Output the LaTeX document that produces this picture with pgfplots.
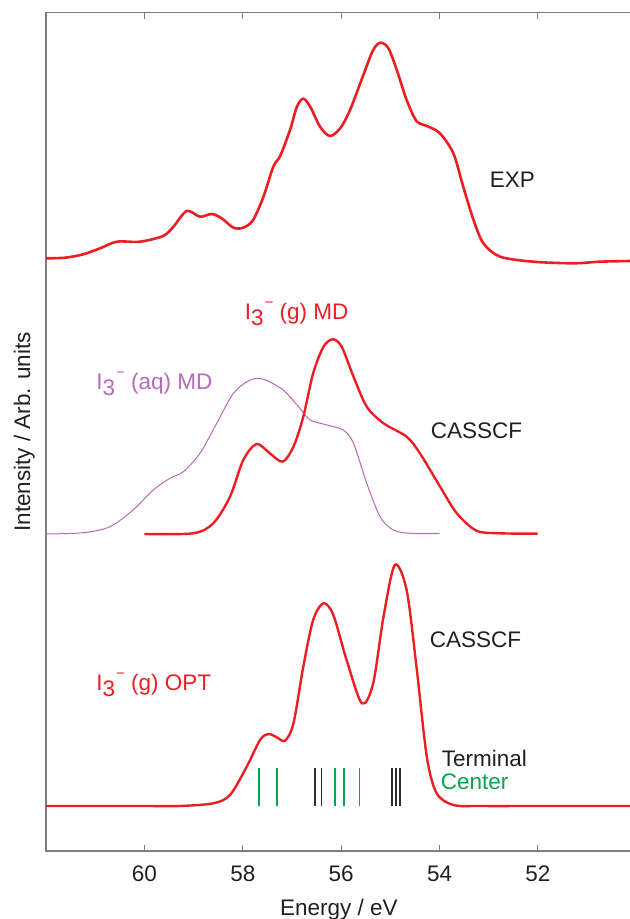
\documentclass[border=0pt]{standalone}
\usepackage{fontspec}
\setmainfont{Liberation Sans}
\usepackage{pgfplots}
\pgfplotsset{compat=1.18}
\definecolor{cRed}{RGB}{236,30,36}
\definecolor{cPurple}{RGB}{186,104,186}
\definecolor{cGreen}{RGB}{0,165,80}
\definecolor{cStick}{RGB}{45,45,45}
\definecolor{cAxis}{RGB}{125,125,125}
\definecolor{cText}{RGB}{35,31,32}
% I_3^- written the way the figure sets it
\newcommand{\Ith}{I\raisebox{-6bp}{3}\hspace{1bp}\raisebox{12bp}{\fontsize{15bp}{15bp}\selectfont\symbol{"2212}}}

\begin{document}
\begin{tikzpicture}[font=\fontsize{22.5bp}{27bp}\selectfont, text=cText]
\useasboundingbox (0,0) rectangle (630bp,919bp);
\begin{axis}[
  at={(46bp,68bp)}, anchor=south west,
  scale only axis, width=590.4bp, height=838.3bp,
  x dir=reverse, xmin=50, xmax=62,
  ymin=-45, ymax=793.3,
  xtick={52,54,56,58,60}, ytick=\empty,
  tick align=inside, major tick length=6bp,
  axis line style={cAxis, line width=1.2bp},
  tick style={cAxis, line width=1bp},
  xticklabel style={anchor=base, yshift=-30.7bp, text=cText},
  /pgf/number format/assume math mode=true,
]
% EXP
\addplot[cRed, line width=2.6bp, smooth, tension=0.5] coordinates {
  (62,547.7) (61.61,548.3) (61.24,551.7) (60.90,557.7) (60.56,564.3)
  (60.09,564.3) (59.62,570) (59.41,579.3) (59.14,595) (58.87,589.3)
  (58.63,592) (58.43,587.7) (58.19,578.3) (57.99,578.3) (57.79,586)
  (57.58,609.3) (57.38,639.3) (57.24,650) (57.04,676) (56.90,699.3)
  (56.77,707.3) (56.63,699.3) (56.43,679.3) (56.23,670) (56.02,677.7)
  (55.82,696) (55.55,731) (55.35,756) (55.20,763.3) (55.04,757.7)
  (54.87,736) (54.67,706) (54.47,685) (54.26,680)
  (54.00,673) (53.72,652.7) (53.52,619.3)
  (53.31,586) (53.11,562.7) (52.77,549.3) (52.10,544.3) (51.28,542.7)
  (50.74,544.3) (50.12,545) (50.0,545)
};
% I3- (aq) MD
\addplot[cPurple, line width=1bp, smooth, tension=0.5] coordinates {
  (62,272) (61.24,273.3) (60.70,279.3) (60.23,296) (59.82,316)
  (59.48,327.7) (59.21,334.3) (58.87,352.7) (58.53,382.7) (58.19,412.7)
  (57.85,426) (57.58,426.7) (57.18,416) (56.84,397.7) (56.63,386)
  (56.29,381) (55.96,376) (55.75,362.7) (55.48,322.7) (55.21,289.3)
  (54.94,276) (54.60,272.7) (54.00,272.3)
};
% I3- (g) MD
\addplot[cRed, line width=2.4bp, smooth, tension=0.5] coordinates {
  (60.00,272) (59.01,272.7) (58.60,282.7) (58.26,309.3) (57.99,346)
  (57.72,362) (57.45,352.7) (57.19,344.3) (56.97,359.3) (56.77,389.3)
  (56.57,432.7) (56.36,459.3) (56.17,466.7) (55.99,459.3) (55.75,429.3)
  (55.48,399.3) (55.14,382.7) (54.67,369.3) (54.40,352.7) (53.99,319.3)
  (53.65,292.7) (53.25,275.3) (52.77,272.7) (52.01,272.3)
};
% I3- (g) OPT
\addplot[cRed, line width=2.4bp, smooth, tension=0.5] coordinates {
  (62,0) (61,0) (60,0) (59.28,0) (58.60,2.7) (58.26,11) (57.92,39.3)
  (57.65,66) (57.48,72) (57.31,68.7) (57.14,65.3) (56.97,82.7)
  (56.77,139.3) (56.57,186) (56.36,202.7) (56.16,191) (55.89,146)
  (55.58,102.7) (55.35,122.7) (55.14,189.3) (54.91,241) (54.67,216)
  (54.47,139.3) (54.26,49.3) (54.06,12.7) (53.72,1) (53.18,0)
  (52,0) (51,0) (50,0)
};
% stick spectra
\addplot[ycomb, cGreen, line width=1.6bp, mark=none] coordinates {
  (57.67,37.7) (57.31,37.7) (56.12,37.7) (55.94,37.7) (55.63,37.7)
};
\addplot[ycomb, cStick, line width=1.6bp, mark=none] coordinates {
  (56.53,37.7) (56.40,37.7) (54.97,37.7) (54.89,37.7) (54.80,37.7)
};
\node[anchor=base west, inner sep=0] at (axis cs:52.98,618.7) {EXP};
\node[anchor=base west, inner sep=0, text=cRed] at (axis cs:57.96,486) {\Ith{} (g) MD};
\node[anchor=base west, inner sep=0, text=cPurple] at (axis cs:60.98,416) {\Ith{} (aq) MD};
\node[anchor=base west, inner sep=0] at (axis cs:54.18,367) {CASSCF};
\node[anchor=base west, inner sep=0] at (axis cs:54.2,158) {CASSCF};
\node[anchor=base west, inner sep=0, text=cRed] at (axis cs:60.98,115.3) {\Ith{} (g) OPT};
\node[anchor=base west, inner sep=0] at (axis cs:53.96,39) {Terminal};
\node[anchor=base west, inner sep=0, text=cGreen] at (axis cs:53.98,16) {Center};
\end{axis}
\node[rotate=90, anchor=base] at (30bp,487.1bp) {Intensity / Arb. units};
\node[anchor=base] at (338.8bp,4bp) {Energy / eV};
\end{tikzpicture}
\end{document}
